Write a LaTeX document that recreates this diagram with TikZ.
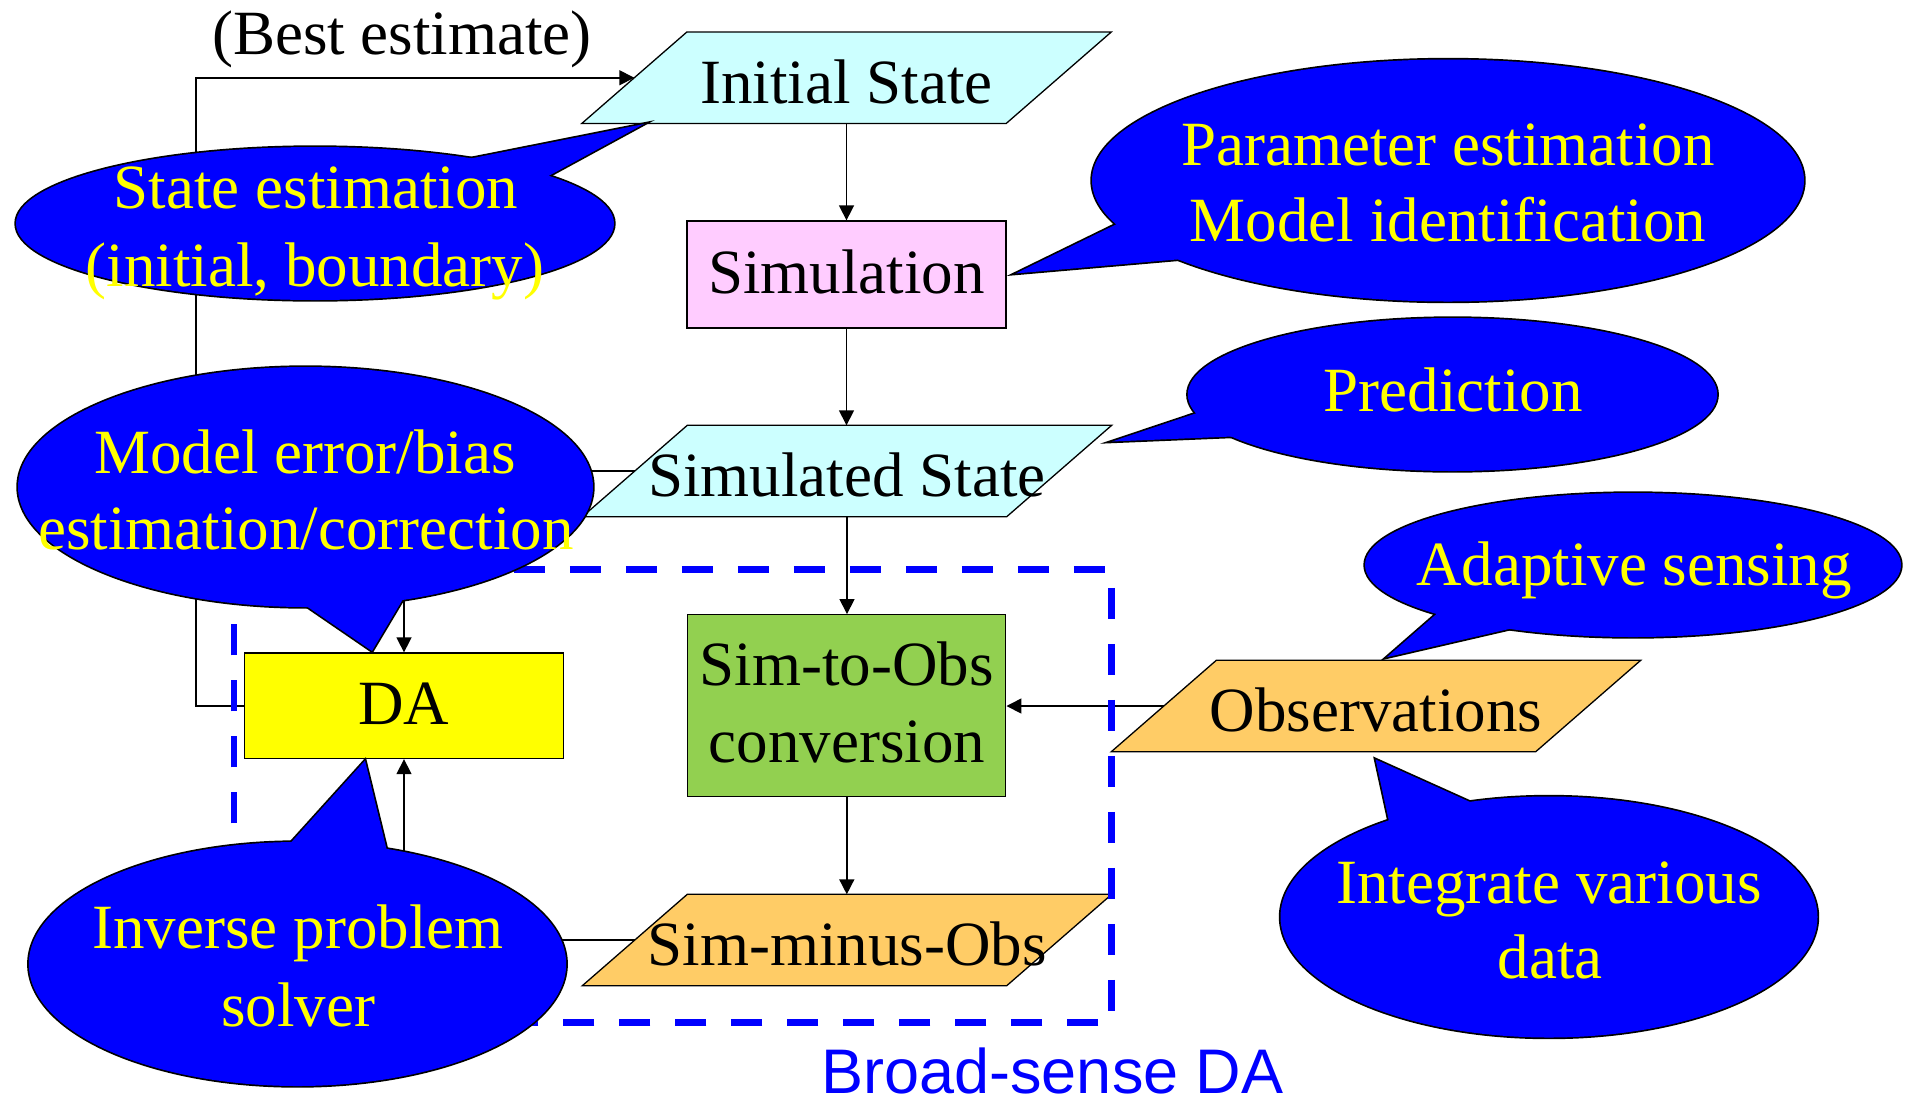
\documentclass[tikz,border=0pt]{standalone}
\usepackage{fontspec}
\setmainfont{Liberation Serif}
\newfontfamily\labelsans{Liberation Sans}
\usetikzlibrary{arrows.meta,backgrounds}

\definecolor{statecyan}{RGB}{204,255,255}
\definecolor{simpink}{RGB}{255,204,255}
\definecolor{convgreen}{RGB}{146,208,80}
\definecolor{obsorange}{RGB}{255,204,102}
\definecolor{dayellow}{RGB}{255,255,0}
\definecolor{bubbleblue}{RGB}{0,0,255}
\definecolor{noteyellow}{RGB}{255,255,0}
\definecolor{framecol}{RGB}{0,0,255}

\newcommand\bigfont{\fontsize{63}{77}\selectfont}

% speech bubble: centre, x radius, y radius, pointer triangle (three points)
\newcommand\speechbubble[4]{%
  \filldraw[bubbleedge] (#1) ellipse [x radius=#2pt, y radius=#3pt];
  \filldraw[bubbleedge] #4 -- cycle;
  \fill[bubbleblue] (#1) ellipse [x radius=#2pt, y radius=#3pt];
  \fill[bubbleblue] #4 -- cycle;
}

% parallelogram drawn around a named data node
\newcommand\parashape[2]{%
  \path[paraedge, fill=#2]
    ([xshift=52.5pt]#1.north west) -- ([xshift=52.5pt]#1.north east) --
    ([xshift=-52.5pt]#1.south east) -- ([xshift=-52.5pt]#1.south west) -- cycle;
}

\tikzset{
  procbox/.style={draw=black, line width=1.3pt, inner sep=0pt, font=\bigfont,
    text height=44pt, text depth=7pt},
  iobox/.style={inner sep=0pt, minimum width=424pt, minimum height=91pt,
    font=\bigfont, text height=51pt, text depth=0pt},
  paraedge/.style={draw=black, line width=1.3pt},
  flowarrow/.style={line width=1.5pt, -{Triangle[length=15pt,width=15pt]}},
  bubbleedge/.style={draw=black, fill=bubbleblue, line width=3.4pt},
  bubbletext/.style={anchor=base, inner sep=0pt, font=\bigfont, text=noteyellow},
  bodytext/.style={anchor=base, inner sep=0pt, font=\bigfont},
  daframe/.style={draw=framecol, line width=6.5pt, dash pattern=on 31pt off 25pt}
}

\begin{document}
\begin{tikzpicture}[x=1pt, y=-1pt]
\useasboundingbox (0,0) rectangle (1905,1104);
\begin{scope}[on background layer]
  \fill[white] (0,0) rectangle (1905,1104);
\end{scope}

% flow chart nodes
\node[iobox] (init) at (846.5,77.75) {Initial State};
\node[procbox, fill=simpink, minimum width=319pt, minimum height=107pt] (sim) at (846.5,274.5) {Simulation};
\node[iobox] (simst) at (847,471) {Simulated State};
\node[procbox, fill=dayellow, minimum width=318.5pt, minimum height=105.5pt] (da) at (404,705.75) {DA};
\node[procbox, fill=convgreen, minimum width=318pt, minimum height=182pt] (conv) at (846.8,705.7) {};
\node[bodytext] (conv1) at (846.8,685.7) {Sim-to-Obs};
\node[bodytext] (conv2) at (846.8,762) {conversion};
\node[iobox] (smo) at (847,940) {Sim-minus-Obs};
\node[iobox] (obs) at (1376,706) {Observations};
\node[bodytext] (best) at (402,54.7) {(Best estimate)};

\begin{scope}[on background layer]
  \parashape{init}{statecyan}
  \parashape{simst}{statecyan}
  \parashape{smo}{obsorange}
  \parashape{obs}{obsorange}
\end{scope}

% connectors
\draw[flowarrow] (init.south) -- (sim.north);
\draw[flowarrow] (sim.south) -- (sim.south |- simst.north);
\draw[flowarrow] (simst.south) -- (simst.south |- conv.north);
\draw[flowarrow] (conv.south) -- (conv.south |- smo.north);
\draw[flowarrow] (obs.west) -- (obs.west -| conv.east);
\draw[flowarrow] (simst.west) -| (da.north);
\draw[flowarrow] (smo.west) -| (da.south);
\draw[flowarrow] (da.west) -- ++(-48,0) |- (init.west);

% broad-sense DA frame
\draw[daframe] (233.8,569.7) -- (1111.6,569.7) -- (1111.6,1022.7) -- (233.8,1022.7) -- cycle;
\node[anchor=base, inner sep=0pt, text depth=0pt, font=\labelsans\fontsize{63}{77}\selectfont, text=framecol] (broad) at (1052.5,1093) {Broad-sense DA};

% speech bubbles
\speechbubble{315,223.5}{299}{76.5}{(463,160) -- (644,124) -- (543,179)}
\node[bubbletext] (st1) at (316,208) {State estimation};
\node[bubbletext] (st2) at (315,286) {(initial, boundary)};

\speechbubble{305.5,487}{287.5}{120}{(299,601) -- (372,651) -- (406,594)}
\node[bubbletext] (me1) at (305,473.5) {Model error/bias};
\node[bubbletext] (me2) at (306,549) {estimation/correction};

\speechbubble{297.5,964}{268.7}{122}{(286,848) -- (365,760.6) -- (388,855)}
\node[bubbletext] (ip1) at (298,948) {Inverse problem};
\node[bubbletext] (ip2) at (298,1026.6) {solver};

\speechbubble{1448,180.5}{356}{121}{(1121,222) -- (1015.5,273.5) -- (1194,258)}
\node[bubbletext] (pe1) at (1448,165) {Parameter estimation};
\node[bubbletext] (pe2) at (1448,241.5) {Model identification};

\speechbubble{1452.5,394.5}{264.7}{76.5}{(1200,412) -- (1112,441.5) -- (1244,436)}
\node[bubbletext] (pr) at (1453,411.4) {Prediction};

\speechbubble{1633,565}{268}{72}{(1441,610) -- (1386.7,657.3) -- (1522,626)}
\node[bubbletext] (ad) at (1634,585) {Adaptive sensing};

\speechbubble{1549,917}{268.5}{120.5}{(1390,826) -- (1375.5,759.4) -- (1479,806)}
\node[bubbletext] (iv1) at (1549,903) {Integrate various};
\node[bubbletext] (iv2) at (1550,978) {data};
\end{tikzpicture}
\end{document}
